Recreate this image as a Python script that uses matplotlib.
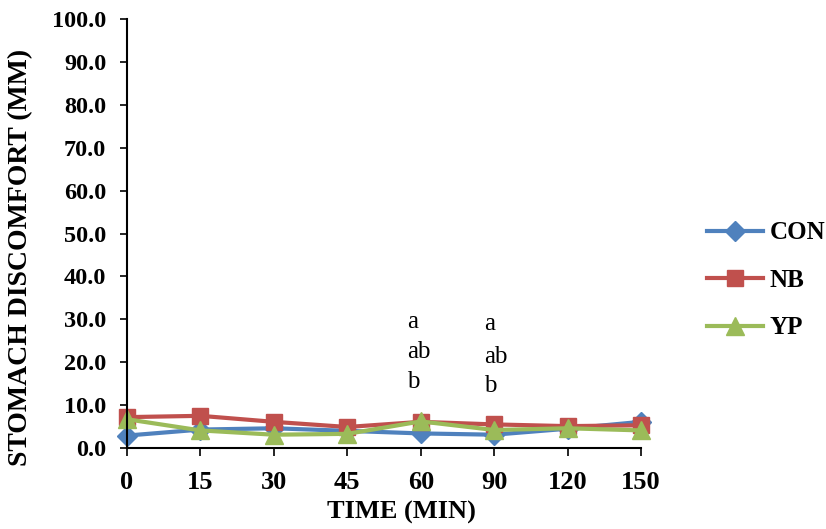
import matplotlib
matplotlib.use("Agg")
import matplotlib.pyplot as plt
from matplotlib.ticker import FormatStrFormatter

plt.rcParams["font.family"] = ["Liberation Serif", "DejaVu Serif"]

# data
times = ["0", "15", "30", "45", "60", "90", "120", "150"]
con = [2.9, 4.3, 4.6, 4.0, 3.4, 3.1, 4.5, 6.1]
nb = [7.2, 7.5, 6.1, 4.9, 6.1, 5.5, 5.1, 5.3]
yp = [6.7, 4.1, 3.1, 3.3, 6.2, 4.2, 4.6, 4.1]

# significance letters
sig_labels = ["a", "ab", "b"]
sig_60 = [28.0, 21.0, 14.0]
sig_90 = [27.4, 19.9, 13.0]

fig = plt.figure(figsize=(8.26, 5.29), dpi=100)
ax = fig.add_axes([0.1538, 0.1531, 0.6223, 0.811])

x = range(len(times))
ax.plot(x, con, color="#4F81BD", marker="D", markersize=10, linewidth=3, label="CON")
ax.plot(x, nb, color="#C0504D", marker="s", markersize=12, linewidth=3, label="NB")
ax.plot(x, yp, color="#9BBB59", marker="^", markersize=13, linewidth=3, label="YP")

for lab, yv in zip(sig_labels, sig_60):
    ax.text(3.81, yv, lab, ha="left", va="baseline", fontsize=18)
for lab, yv in zip(sig_labels, sig_90):
    ax.text(4.86, yv, lab, ha="left", va="baseline", fontsize=18)

ax.set_xlim(0, 7)
ax.set_ylim(0, 100)
ax.set_xticks(list(x))
ax.set_xticklabels(times)
ax.set_yticks(range(0, 101, 10))
ax.yaxis.set_major_formatter(FormatStrFormatter("%.1f"))
ax.tick_params(axis="x", labelsize=19, width=1.2, length=5.5, direction="out", pad=11)
ax.tick_params(axis="y", labelsize=17.5, width=1.2, length=5, direction="out", pad=10)
for t in ax.get_xticklabels() + ax.get_yticklabels():
    t.set_fontweight("bold")

ax.spines["top"].set_visible(False)
ax.spines["right"].set_visible(False)
ax.spines["left"].set_linewidth(1.5)
ax.spines["bottom"].set_linewidth(1.5)

ax.set_xlabel("TIME (MIN)", fontsize=19, fontweight="bold")
ax.set_ylabel("STOMACH DISCOMFORT (MM)", fontsize=20, fontweight="bold")
ax.xaxis.set_label_coords(0.533, -0.123)
ax.yaxis.set_label_coords(-0.183, 0.444)

leg = fig.legend(loc="center left", bbox_to_anchor=(0.856, 0.47), frameon=False,
                 prop={"weight": "bold", "size": 18}, handlelength=2.25,
                 labelspacing=0.98, handletextpad=0.25, borderpad=0, borderaxespad=0)

for line in ax.lines:
    line.set_clip_on(False)

fig.savefig("out.png", dpi=100)
